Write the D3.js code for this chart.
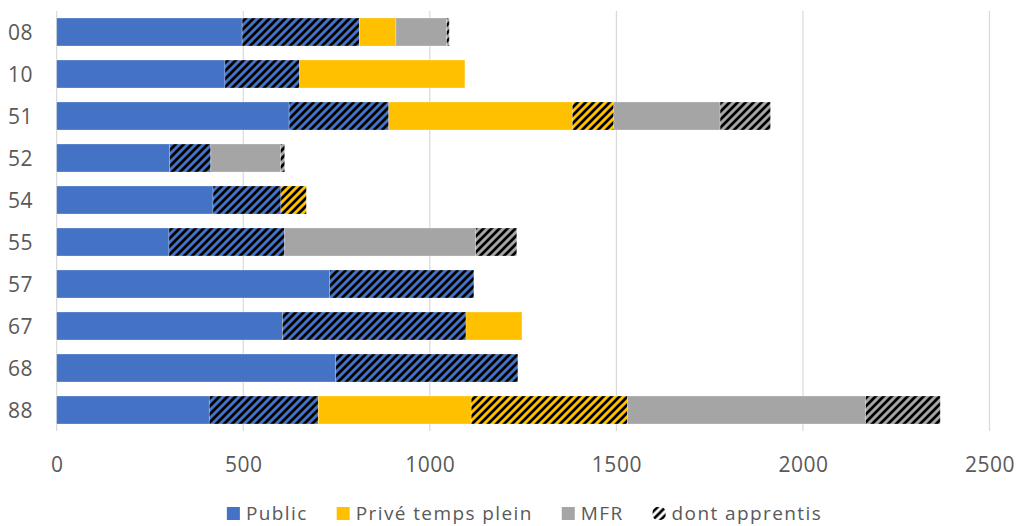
<!DOCTYPE html>
<html>
<head>
<meta charset="utf-8">
<script src="https://cdn.jsdelivr.net/npm/d3@7"></script>
<style>
  html, body { margin: 0; padding: 0; background: #fff; }
  svg { display: block; }
  text { font-family: "Open Sans", "Noto Sans", sans-serif; fill: #595959; }
</style>
</head>
<body>
<svg id="chart" width="1018" height="526"></svg>
<script>
const categories = ["08", "10", "51", "52", "54", "55", "57", "67", "68", "88"];
const publicFull   = [497, 451, 623, 303, 419, 301, 732, 605, 748, 409];
const publicApp    = [314, 200, 267, 110, 182, 310, 386, 492, 488, 292];
const priveFull    = [ 98, 443, 492,   0,   0,   0,   0, 150,   0, 410];
const priveApp     = [  0,   0, 111,   0,  68,   0,   0,   0,   0, 419];
const mfrFull      = [136,   0, 285, 187,   0, 512,   0,   0,   0, 638];
const mfrApp       = [  7,   0, 135,  11,   0, 110,   0,   0,   0, 200];
const xTicks = [0, 500, 1000, 1500, 2000, 2500];
const legendLabels = ["Public", "Privé temps plein", "MFR", "dont apprentis"];

const colors = { pub: "#4472C4", prv: "#FFC000", mfr: "#A5A5A5" };
const series = [
  { key: "pubF", values: publicFull, color: colors.pub, hatch: false },
  { key: "pubA", values: publicApp,  color: colors.pub, hatch: true },
  { key: "prvF", values: priveFull,  color: colors.prv, hatch: false },
  { key: "prvA", values: priveApp,   color: colors.prv, hatch: true },
  { key: "mfrF", values: mfrFull,    color: colors.mfr, hatch: false },
  { key: "mfrA", values: mfrApp,     color: colors.mfr, hatch: true }
];

const svg = d3.select("#chart");
const defs = svg.append("defs");

function makePattern(id, bg) {
  const p = defs.append("pattern")
    .attr("id", id).attr("patternUnits", "userSpaceOnUse")
    .attr("width", 8).attr("height", 8);
  p.append("rect").attr("width", 8).attr("height", 8).attr("fill", bg);
  p.append("path")
    .attr("d", "M-2,2 L2,-2 M0,8 L8,0 M6,10 L10,6")
    .attr("stroke", "#000").attr("stroke-width", 2.7);
}
makePattern("h-pub", colors.pub);
makePattern("h-prv", colors.prv);
makePattern("h-mfr", colors.mfr);
makePattern("h-leg", "#fff");

const x = d3.scaleLinear().domain([0, 2500]).range([56.7, 989.5]);
const y = d3.scaleBand().domain(categories).range([11, 431])
  .paddingInner(1 / 3).paddingOuter(1 / 6);

// gridlines
svg.append("g").selectAll("line").data(xTicks).join("line")
  .attr("x1", d => x(d)).attr("x2", d => x(d))
  .attr("y1", 11).attr("y2", 431)
  .attr("stroke", "#D9D9D9").attr("stroke-width", 1.2);

// x axis labels
const xAxis = d3.axisBottom(x).tickValues(xTicks).tickSize(0).tickPadding(0).tickFormat(d3.format("d"));
const gx = svg.append("g").attr("transform", "translate(0,472)").call(xAxis);
gx.select(".domain").remove();
gx.selectAll("text").attr("font-size", 21).attr("dy", "0").attr("y", 0)
  .attr("letter-spacing", 0.5)
  .style("font-family", "'Open Sans', sans-serif").style("fill", "#595959");

// y axis labels
const yAxis = d3.axisLeft(y).tickSize(0).tickPadding(0);
const gy = svg.append("g").attr("transform", "translate(33,0)").call(yAxis);
gy.select(".domain").remove();
gy.selectAll("text").attr("font-size", 21).attr("dy", "0.38em")
  .attr("letter-spacing", 0.5)
  .style("font-family", "'Open Sans', sans-serif").style("fill", "#595959");

// stacked bars
const rows = categories.map((c, i) => {
  let acc = 0;
  return series.map(s => {
    const v = s.values[i];
    const seg = { cat: c, x0: acc, x1: acc + v, s };
    acc += v;
    return seg;
  }).filter(d => d.x1 > d.x0);
});

const patId = { [colors.pub]: "h-pub", [colors.prv]: "h-prv", [colors.mfr]: "h-mfr" };
svg.append("g").selectAll("rect").data(rows.flat()).join("rect")
  .attr("x", d => x(d.x0))
  .attr("width", d => x(d.x1) - x(d.x0))
  .attr("y", d => y(d.cat))
  .attr("height", y.bandwidth())
  .attr("fill", d => d.s.hatch ? `url(#${patId[d.s.color]})` : d.s.color)
  .attr("stroke", "rgba(255,255,255,0.35)").attr("stroke-width", 0.75);

// legend
const legendItems = [
  { label: legendLabels[0], fill: colors.pub, round: 0 },
  { label: legendLabels[1], fill: colors.prv, round: 0 },
  { label: legendLabels[2], fill: colors.mfr, round: 0 },
  { label: legendLabels[3], fill: "url(#h-leg)", round: 5 }
];
const lg = svg.append("g");
const items = lg.selectAll("g").data(legendItems).join("g");
items.append("rect")
  .attr("x", 0).attr("y", 507).attr("width", 13).attr("height", 13)
  .attr("rx", d => d.round).attr("fill", d => d.fill);
items.append("text")
  .attr("x", 19).attr("y", 520).attr("font-size", 19)
  .attr("letter-spacing", 1.4)
  .text(d => d.label);
let widths = [];
items.each(function() { widths.push(this.getBBox().width); });
const gap = 29;
const total = d3.sum(widths) + gap * (widths.length - 1);
let cx = 524.5 - total / 2;
items.attr("transform", (d, i) => {
  const t = `translate(${cx},0)`;
  cx += widths[i] + gap;
  return t;
});
</script>
</body>
</html>
